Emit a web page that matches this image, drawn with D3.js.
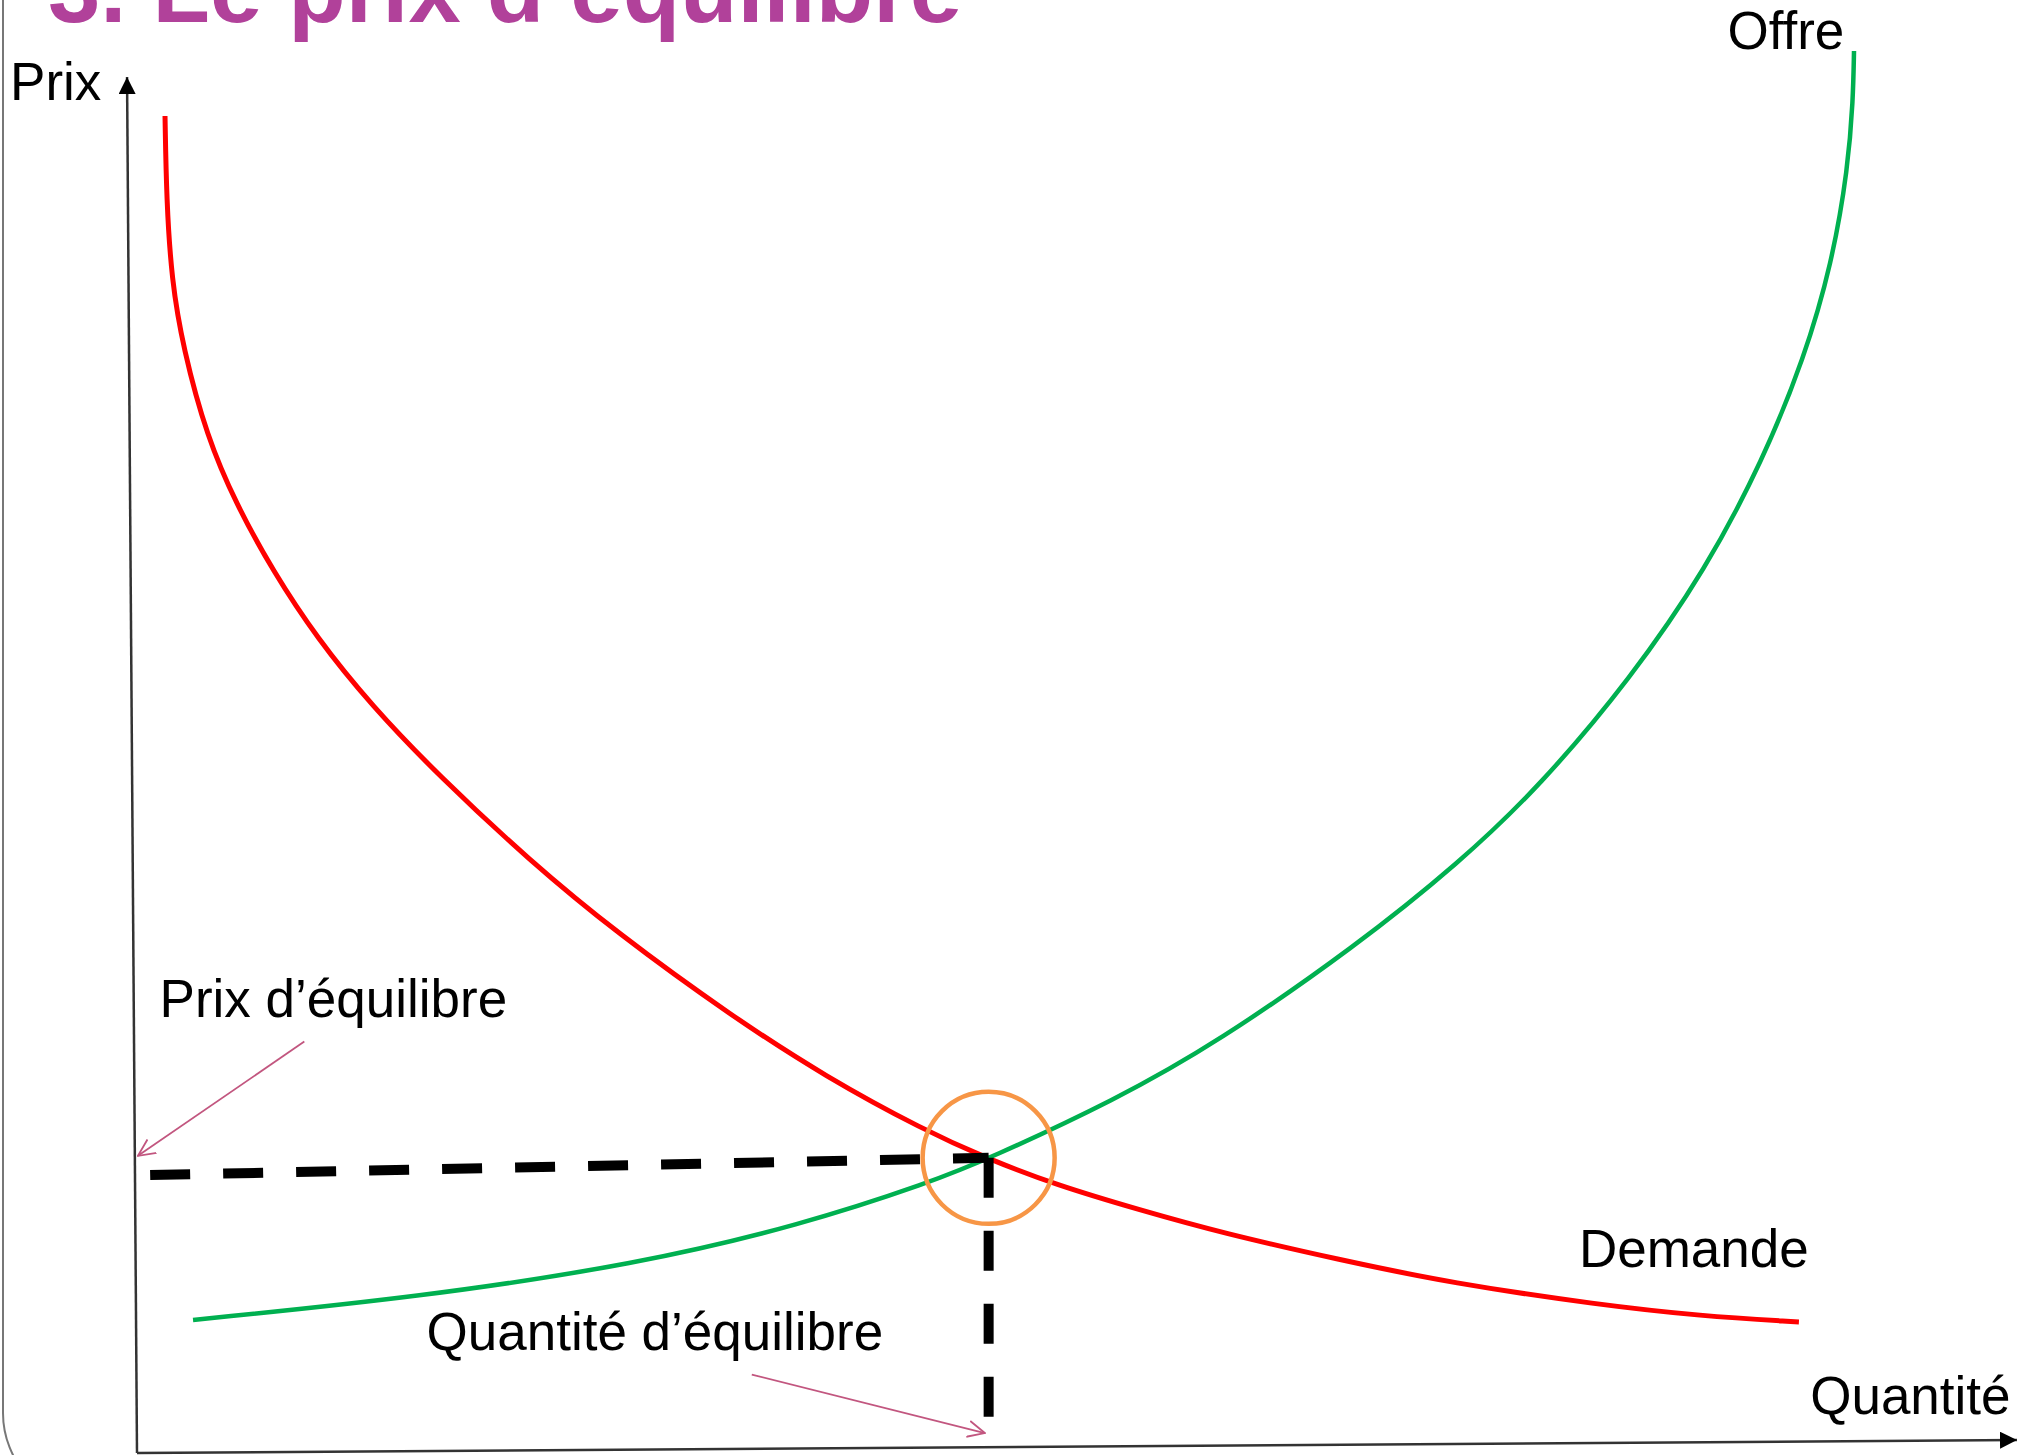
<!DOCTYPE html>
<html>
<head>
<meta charset="utf-8">
<style>
  html, body { margin: 0; padding: 0; background: #fff; }
  svg { display: block; }
  text { font-family: "Liberation Sans", Arial, sans-serif; }
</style>
</head>
<body>
<svg width="2030" height="1455"></svg>
<script src="https://d3js.org/d3.v7.min.js"></script>
<script>

// demande (rouge) : quantite / prix
var demandQ = [1.49, 1.57, 1.84, 2.45, 3.72, 5.27, 7.23, 9.57, 12.45, 16.12, 20.85, 25.53, 31.70, 36.65, 41.86, 45.16, 48.88, 53.35, 57.71, 63.99, 69.89, 77.82, 83.14, 88.40];
var demandP = [97.17, 91.06, 85.25, 80.31, 73.84, 68.97, 64.10, 59.23, 54.36, 49.13, 43.10, 37.79, 31.69, 27.33, 23.47, 21.44, 19.48, 17.66, 15.99, 14.03, 12.35, 10.76, 9.96, 9.52];

// offre (vert)
var supplyQ = [2.98, 15.11, 26.65, 35.32, 42.23, 45.27, 52.02, 57.50, 64.84, 70.32, 74.63, 79.47, 83.46, 86.49, 88.67, 90.16, 91.01, 91.28, 91.33];
var supplyP = [9.67, 11.34, 13.74, 16.57, 19.69, 21.37, 25.65, 29.87, 36.85, 42.88, 48.47, 56.32, 64.24, 72.17, 79.51, 86.48, 93.39, 98.33, 101.89];

// equilibre
var eqQ = 45.3, eqP = 21.45;
var priceDashStart = [0.7, 20.2];   // debut du pointille horizontal
var qtyDashEnd = [45.3, 2.5];       // fin du pointille vertical

// axes (legerement penches comme sur l'image)
var yAxisPts = [[0, 0], [-0.53, 100]];
var xAxisPts = [[0, 0], [100, 0.94]];

// fleches roses d'annotation
var priceArrow = [[8.9, 29.9], [0.05, 21.6]];
var qtyArrow = [[32.7, 5.7], [45.1, 1.45]];

// textes
var title = "3. Le prix d\u2019\u00e9quilibre";
var labels = [
  {text: "Prix", q: -6.75, p: 98.3},
  {text: "Offre", q: 84.6, p: 102.0},
  {text: "Prix d\u2019\u00e9quilibre", q: 1.2, p: 31.7},
  {text: "Quantit\u00e9 d\u2019\u00e9quilibre", q: 15.4, p: 7.5},
  {text: "Demande", q: 76.7, p: 13.5},
  {text: "Quantit\u00e9", q: 89.0, p: 2.8}
];

var svg = d3.select("svg");

var x = d3.scaleLinear().domain([0, 100]).range([137, 2017]);
var y = d3.scaleLinear().domain([0, 100]).range([1453, 77]);

var curve = d3.line()
    .x(function(d) { return x(d[0]); })
    .y(function(d) { return y(d[1]); })
    .curve(d3.curveBasis);

var straight = d3.line()
    .x(function(d) { return x(d[0]); })
    .y(function(d) { return y(d[1]); });

var defs = svg.append("defs");

defs.append("marker")
    .attr("id", "tri")
    .attr("markerUnits", "userSpaceOnUse")
    .attr("viewBox", "0 0 10 10")
    .attr("refX", 10).attr("refY", 5)
    .attr("markerWidth", 17).attr("markerHeight", 17)
    .attr("orient", "auto")
  .append("path")
    .attr("d", "M0,0L10,5L0,10Z")
    .attr("fill", "#000");

defs.append("marker")
    .attr("id", "vee")
    .attr("markerUnits", "userSpaceOnUse")
    .attr("viewBox", "0 0 10 10")
    .attr("refX", 9.5).attr("refY", 5)
    .attr("markerWidth", 18).attr("markerHeight", 18)
    .attr("orient", "auto")
  .append("path")
    .attr("d", "M0,0.5L9.5,5L0,9.5")
    .attr("fill", "none")
    .attr("stroke", "#C2567F")
    .attr("stroke-width", 1);

// cadre de la diapositive
svg.append("rect")
    .attr("x", 3).attr("y", -300)
    .attr("width", 2400).attr("height", 1806)
    .attr("rx", 93).attr("ry", 93)
    .attr("fill", "none")
    .attr("stroke", "#777")
    .attr("stroke-width", 2);

// titre
svg.append("text")
    .attr("x", 48).attr("y", 22)
    .attr("font-size", 94)
    .attr("font-weight", "bold")
    .attr("fill", "#B1419A")
    .text(title);

var g = svg.append("g");

// axes
g.append("path")
    .datum(yAxisPts)
    .attr("d", straight)
    .attr("fill", "none")
    .attr("stroke", "#333")
    .attr("stroke-width", 2.5)
    .attr("marker-end", "url(#tri)");

g.append("path")
    .datum(xAxisPts)
    .attr("d", straight)
    .attr("fill", "none")
    .attr("stroke", "#333")
    .attr("stroke-width", 2.5)
    .attr("marker-end", "url(#tri)");

// courbes
var demand = demandQ.map(function(q, i) { return [q, demandP[i]]; });
var supply = supplyQ.map(function(q, i) { return [q, supplyP[i]]; });

g.append("path")
    .datum(demand)
    .attr("d", curve)
    .attr("fill", "none")
    .attr("stroke", "#FF0000")
    .attr("stroke-width", 5);

g.append("path")
    .datum(supply)
    .attr("d", curve)
    .attr("fill", "none")
    .attr("stroke", "#00B050")
    .attr("stroke-width", 4.5);

// pointilles vers les axes
g.append("path")
    .datum([priceDashStart, [eqQ, eqP]])
    .attr("d", straight)
    .attr("fill", "none")
    .attr("stroke", "#000")
    .attr("stroke-width", 10)
    .style("stroke-dasharray", "40,33");

g.append("path")
    .datum([[eqQ, eqP], qtyDashEnd])
    .attr("d", straight)
    .attr("fill", "none")
    .attr("stroke", "#000")
    .attr("stroke-width", 10)
    .style("stroke-dasharray", "40,33");

// cercle autour du point d'equilibre
g.append("circle")
    .attr("cx", x(eqQ))
    .attr("cy", y(eqP))
    .attr("r", 66)
    .attr("fill", "none")
    .attr("stroke", "#F79646")
    .attr("stroke-width", 4.5);

// fleches roses
g.selectAll(".annot")
    .data([priceArrow, qtyArrow])
  .enter().append("path")
    .attr("class", "annot")
    .attr("d", straight)
    .attr("fill", "none")
    .attr("stroke", "#C2567F")
    .attr("stroke-width", 1.8)
    .attr("marker-end", "url(#vee)");

// libelles
g.selectAll(".lbl")
    .data(labels)
  .enter().append("text")
    .attr("class", "lbl")
    .attr("x", function(d) { return x(d.q); })
    .attr("y", function(d) { return y(d.p); })
    .attr("font-size", 53)
    .attr("fill", "#000")
    .text(function(d) { return d.text; });

</script>
</body>
</html>
